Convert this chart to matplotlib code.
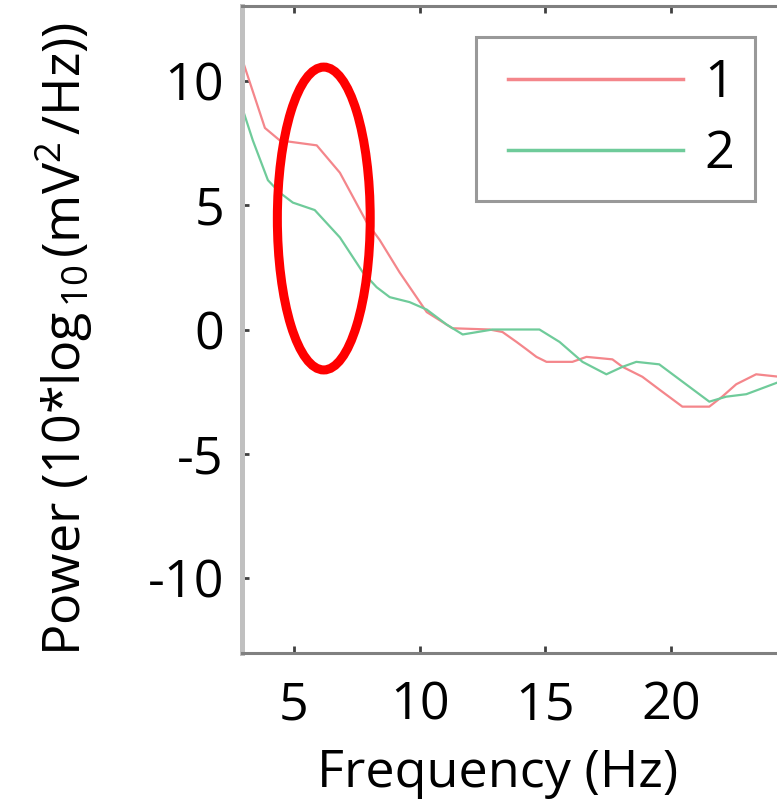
import matplotlib

matplotlib.use("Agg")
import matplotlib.pyplot as plt
from matplotlib.legend_handler import HandlerLine2D
from matplotlib.lines import Line2D
from matplotlib.patches import Ellipse

# Power spectra
freq_1 = [3.0, 3.85, 4.44, 5.91, 6.83, 7.9, 8.41, 9.2, 10.28, 11.3, 12.78, 13.29,
          13.85, 14.25, 14.64, 15.04, 16.07, 16.63, 17.66, 18.06, 18.85, 19.64,
          20.44, 21.51, 22.02, 22.58, 23.37, 24.3]
power_1 = [10.7, 8.1, 7.6, 7.4, 6.3, 4.3, 3.6, 2.3, 0.7, 0.05, 0.0, -0.1,
           -0.5, -0.8, -1.1, -1.3, -1.3, -1.1, -1.2, -1.5, -1.9, -2.5,
           -3.1, -3.1, -2.7, -2.2, -1.8, -1.9]

freq_2 = [3.0, 3.37, 3.97, 4.44, 4.96, 5.83, 6.83, 7.74, 8.29, 8.81, 9.6, 10.28,
          11.07, 11.71, 12.9, 14.76, 15.56, 16.47, 17.42, 18.06, 18.61, 19.52,
          21.51, 22.18, 22.98, 24.3]
power_2 = [8.75, 7.6, 6.0, 5.5, 5.1, 4.8, 3.7, 2.3, 1.7, 1.3, 1.1, 0.8,
           0.2, -0.2, 0.0, 0.0, -0.5, -1.3, -1.8, -1.5, -1.3, -1.4,
           -2.9, -2.7, -2.6, -2.1]

series_labels = ["1", "2"]
x_ticks = [5, 10, 15, 20]
y_ticks = [-10, -5, 0, 5, 10]

# highlighted region (centre, width, height in data units)
highlight = (6.19, 4.46, 3.69, 12.17)

plt.rcParams["font.family"] = ["Open Sans", "DejaVu Sans"]
plt.rcParams["mathtext.fontset"] = "custom"
plt.rcParams["mathtext.rm"] = "Open Sans"
plt.rcParams["mathtext.it"] = "Open Sans"
plt.rcParams["axes.unicode_minus"] = False

fs = 37.5

fig = plt.figure(figsize=(7.77, 8.07), dpi=100)
ax = fig.add_axes([242 / 777, 1 - 653 / 807, 535 / 777, 647 / 807])

ax.plot(freq_1, power_1, color="#f4868b", lw=1.6, label=series_labels[0])
ax.plot(freq_2, power_2, color="#6fcb9a", lw=1.6, label=series_labels[1])

cx, cy, w, h = highlight
ax.add_patch(Ellipse((cx, cy), w, h, fill=False, edgecolor="#ff0000", lw=6.5,
                     clip_on=False, zorder=5))

ax.set_xlim(2.94, 24.2)
ax.set_ylim(-13, 13)
ax.set_xticks(x_ticks)
ax.set_yticks(y_ticks)

ax.spines["right"].set_visible(False)
ax.spines["left"].set_color("#c0c0c0")
ax.spines["left"].set_linewidth(3.6)
for side in ("top", "bottom"):
    ax.spines[side].set_color("#808080")
    ax.spines[side].set_linewidth(2.2)

ax.tick_params(axis="both", direction="in", length=5, width=2, color="#404040",
               labelsize=fs)
ax.tick_params(axis="x", top=True, pad=20)
ax.tick_params(axis="y", pad=13)

ax.set_xlabel("Frequency (Hz)", fontsize=fs)
ax.xaxis.set_label_coords(0.477, -0.147)
ax.xaxis.label.set_va("top")
ax.set_ylabel(r"Power (10*log$_{\,10\,}$(mV$^{2\,}$/Hz))", fontsize=fs)
ax.yaxis.set_label_coords(-0.275, 0.485)

leg = ax.legend(loc="upper left", bbox_to_anchor=(0.437, 0.952), borderaxespad=0,
                fontsize=fs, handlelength=3.58, handletextpad=0.4,
                labelspacing=0.39, borderpad=0.4, fancybox=False,
                handler_map={Line2D: HandlerLine2D(xpad=0.21)})
leg.get_frame().set_edgecolor("#808080")
leg.get_frame().set_linewidth(2.2)
for line in leg.get_lines():
    line.set_linewidth(2.5)

fig.savefig("out.png", dpi=100)
